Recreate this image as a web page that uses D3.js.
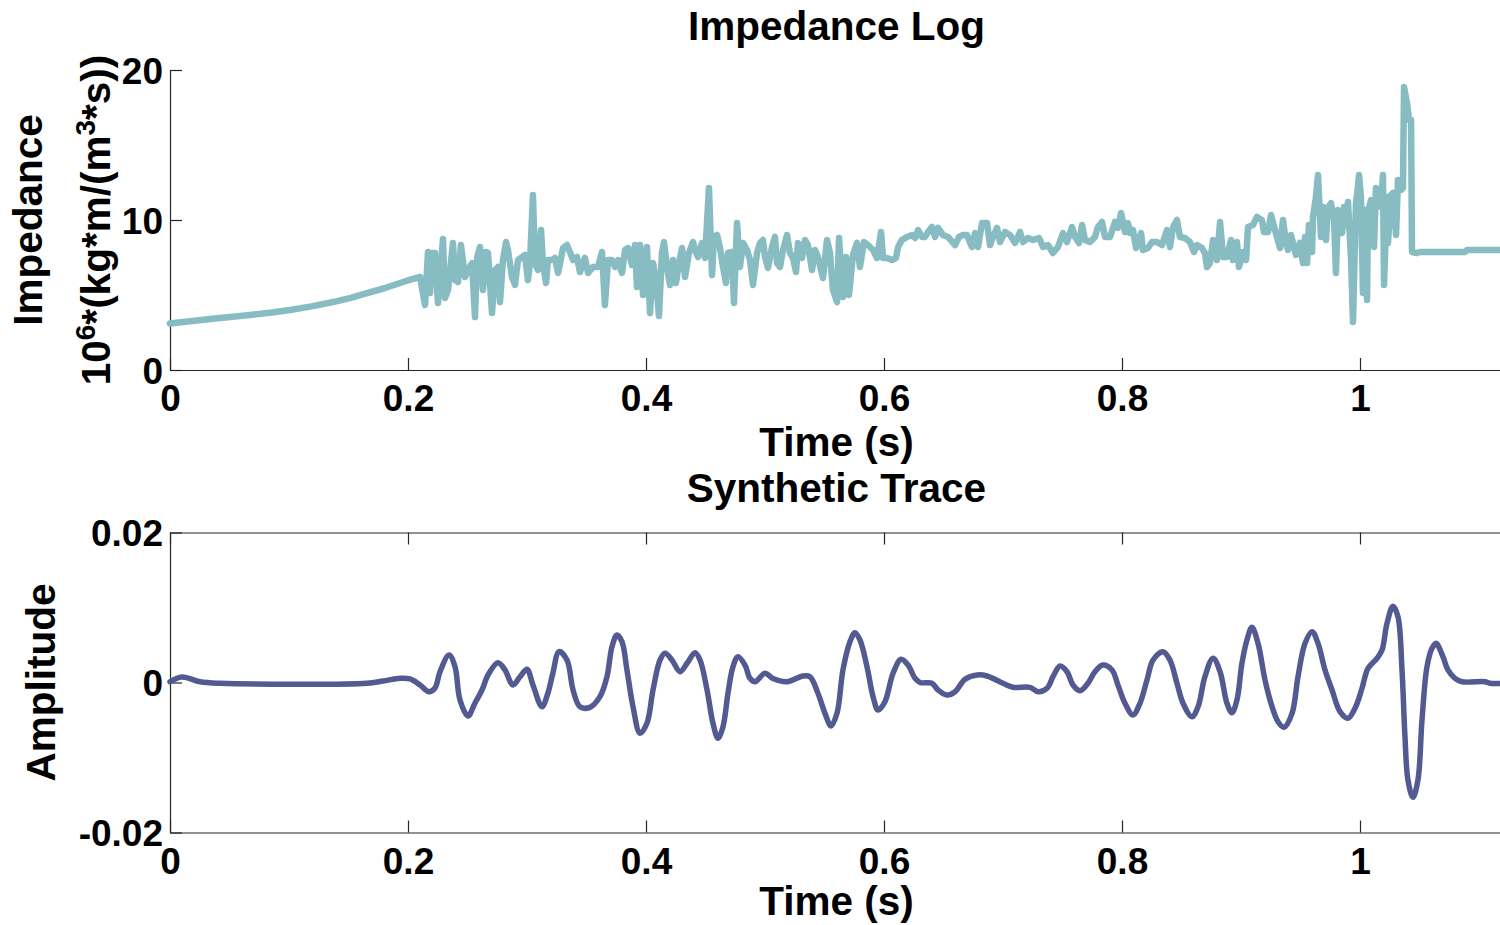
<!DOCTYPE html>
<html>
<head>
<meta charset="utf-8">
<script src="https://cdn.jsdelivr.net/npm/d3@7/dist/d3.min.js"></script>
<style>
  html, body { margin: 0; padding: 0; background: #ffffff; }
  svg { display: block; }
  text { font-family: "Liberation Sans", Arial, Helvetica, sans-serif; font-weight: bold; fill: #000; }
</style>
</head>
<body>
<svg id="chart" width="1500" height="925"></svg>
<script>
// ---- Impedance log (time in s, impedance in 10^6 kg/(m^2 s)) ----
const impTime = [
  0, 0.0168, 0.0336, 0.0504, 0.0672, 0.0840, 0.1008, 0.1190, 0.1370, 0.1520, 0.1655, 0.1800, 0.1933, 0.2020, 0.2101,
  0.2143, 0.2168, 0.2185, 0.2202, 0.2227, 0.2252, 0.2294, 0.2311, 0.2336, 0.2378,
  0.2395, 0.2420, 0.2445, 0.2479, 0.2504, 0.2538, 0.2563, 0.2580, 0.2605, 0.2630,
  0.2655, 0.2672, 0.2706, 0.2731, 0.2756, 0.2773, 0.2798, 0.2824, 0.2840, 0.2874,
  0.2899, 0.2924, 0.2958, 0.2983, 0.3008, 0.3025, 0.3050, 0.3067, 0.3092, 0.3118,
  0.3134, 0.3160, 0.3176, 0.3210, 0.3235, 0.3261, 0.3303, 0.3336, 0.3361, 0.3387,
  0.3420, 0.3445, 0.3487, 0.3513, 0.3555, 0.3597, 0.3630, 0.3655, 0.3681, 0.3714,
  0.3739, 0.3765, 0.3798, 0.3824, 0.3849, 0.3882, 0.3908, 0.3924, 0.3950, 0.3975,
  0.4008, 0.4034, 0.4059, 0.4084, 0.4109, 0.4134, 0.4151, 0.4176, 0.4202, 0.4227,
  0.4252, 0.4277, 0.4303, 0.4328, 0.4361, 0.4395, 0.4412, 0.4437, 0.4471, 0.4496,
  0.4529, 0.4555, 0.4571, 0.4597, 0.4622, 0.4647, 0.4672, 0.4689, 0.4723, 0.4739,
  0.4765, 0.4790, 0.4815, 0.4849, 0.4874, 0.4899, 0.4933, 0.4958, 0.4983, 0.5000,
  0.5025, 0.5059, 0.5084, 0.5101, 0.5126, 0.5151, 0.5185, 0.5210, 0.5235, 0.5261,
  0.5277, 0.5311, 0.5336, 0.5361, 0.5395, 0.5420, 0.5445, 0.5487, 0.5521, 0.5546,
  0.5571, 0.5605, 0.5622, 0.5655, 0.5681, 0.5706, 0.5739, 0.5773, 0.5798, 0.5832,
  0.5866, 0.5908, 0.5941, 0.5975, 0.5992, 0.6025, 0.6067, 0.6101, 0.6118, 0.6151,
  0.6193, 0.6235, 0.6261, 0.6286, 0.6319, 0.6345, 0.6370, 0.6403, 0.6429, 0.6454,
  0.6496, 0.6538, 0.6597, 0.6630, 0.6664, 0.6697, 0.6739, 0.6765, 0.6790, 0.6824,
  0.6866, 0.6891, 0.6916, 0.6950, 0.6975, 0.7017, 0.7059, 0.7101, 0.7143, 0.7168,
  0.7210, 0.7252, 0.7303, 0.7336, 0.7378, 0.7420, 0.7462, 0.7504, 0.7538, 0.7580,
  0.7605, 0.7639, 0.7664, 0.7689, 0.7731, 0.7773, 0.7798, 0.7832, 0.7857, 0.7899,
  0.7941, 0.7966, 0.7992, 0.8025, 0.8050, 0.8067, 0.8092, 0.8118, 0.8160, 0.8176,
  0.8218, 0.8252, 0.8294, 0.8336, 0.8378, 0.8403, 0.8429, 0.8462, 0.8487, 0.8529,
  0.8571, 0.8605, 0.8630, 0.8672, 0.8697, 0.8714, 0.8739, 0.8765, 0.8798, 0.8824,
  0.8849, 0.8882, 0.8916, 0.8933, 0.8966, 0.8983, 0.9017, 0.9042, 0.9059, 0.9101,
  0.9134, 0.9176, 0.9193, 0.9227, 0.9252, 0.9286, 0.9328, 0.9353, 0.9378, 0.9395,
  0.9420, 0.9437, 0.9462, 0.9496, 0.9521, 0.9538, 0.9555, 0.9571, 0.9597, 0.9605,
  0.9630, 0.9647, 0.9672, 0.9689, 0.9714, 0.9731, 0.9756, 0.9782, 0.9798, 0.9815,
  0.9849, 0.9866, 0.9891, 0.9899, 0.9924, 0.9941, 0.9966, 0.9975, 0.9992, 1.0008,
  1.0025, 1.0042, 1.0059, 1.0067, 1.0092, 1.0109, 1.0118, 1.0134, 1.0160, 1.0176,
  1.0193, 1.0202, 1.0227, 1.0235, 1.0261, 1.0277, 1.0303, 1.0319, 1.0345, 1.0361,
  1.0370, 1.0395, 1.0412, 1.0429, 1.0437, 1.0479, 1.0504, 1.0882, 1.0899, 1.1202
];
const impValue = [
  3.10, 3.25, 3.40, 3.53, 3.67, 3.82, 4.00, 4.24, 4.53, 4.81, 5.13, 5.45, 5.80, 6.02, 6.20,
  4.33, 7.87, 5.13, 7.80, 7.80, 4.47, 8.73, 4.80, 5.33, 8.47,
  6.00, 5.87, 8.33, 6.20, 6.67, 7.13, 3.53, 7.47, 8.20, 5.33,
  7.87, 7.80, 3.80, 6.67, 6.87, 4.53, 7.33, 8.53, 8.00, 6.20,
  5.67, 7.33, 7.53, 7.67, 6.00, 7.13, 11.67, 7.13, 6.67, 9.33,
  7.13, 5.80, 7.33, 7.33, 7.47, 6.47, 8.13, 8.33, 7.87, 7.33,
  7.53, 6.53, 7.47, 6.47, 6.87, 6.87, 7.87, 4.33, 7.33, 7.33,
  6.87, 7.33, 6.47, 8.00, 8.13, 7.00, 8.33, 5.53, 8.33, 5.00,
  8.20, 3.80, 7.13, 6.00, 3.60, 7.80, 8.53, 6.87, 5.67, 7.33,
  5.80, 7.13, 8.13, 6.20, 7.80, 8.53, 8.00, 7.53, 8.47, 7.47,
  12.13, 6.33, 8.87, 9.00, 8.13, 6.87, 5.80, 7.80, 7.87, 4.47,
  9.80, 6.87, 8.47, 8.00, 7.33, 5.67, 7.80, 8.47, 8.67, 7.53,
  6.80, 8.20, 8.87, 7.13, 6.87, 8.00, 9.00, 7.80, 7.47, 6.53,
  8.47, 7.47, 8.67, 8.33, 6.67, 8.00, 7.53, 6.13, 8.67, 7.80,
  5.33, 4.53, 8.80, 4.87, 7.53, 5.00, 7.67, 8.47, 6.87, 8.53,
  8.33, 8.00, 7.47, 9.20, 7.47, 7.47, 7.33, 7.47, 8.20, 8.67,
  8.87, 9.00, 8.80, 9.33, 8.87, 8.87, 9.20, 9.53, 8.87, 9.47,
  9.00, 8.87, 8.33, 8.87, 9.00, 9.00, 8.20, 9.13, 8.20, 9.80,
  9.80, 8.33, 8.87, 9.47, 8.53, 9.20, 9.00, 8.47, 9.20, 8.53,
  8.80, 8.67, 8.80, 8.20, 8.33, 7.80, 8.20, 9.13, 8.53, 9.53,
  8.87, 8.47, 9.67, 8.67, 8.53, 8.87, 9.53, 9.87, 8.87, 8.87,
  9.87, 9.47, 10.47, 9.20, 9.80, 9.13, 9.33, 8.13, 9.13, 8.00,
  8.13, 8.53, 8.53, 8.33, 9.33, 8.20, 9.53, 10.00, 8.87, 8.80,
  8.53, 7.87, 8.33, 8.13, 7.80, 6.87, 7.13, 8.67, 7.33, 9.87,
  7.53, 7.53, 8.67, 7.33, 8.53, 6.87, 7.87, 7.33, 9.53, 9.67,
  10.20, 10.00, 9.20, 9.20, 10.33, 9.33, 8.13, 10.00, 8.47, 8.00,
  9.00, 8.47, 7.67, 8.47, 7.13, 8.87, 7.13, 9.67, 7.87, 10.20,
  11.53, 13.00, 8.87, 10.87, 8.67, 10.80, 11.13, 10.00, 6.47, 10.67,
  9.13, 10.87, 9.67, 11.20, 7.53, 3.20, 11.13, 11.67, 13.00, 11.53,
  5.13, 10.67, 4.67, 10.47, 11.33, 10.20, 8.20, 12.13, 12.00, 10.87,
  13.00, 5.67, 11.53, 8.47, 11.67, 11.80, 9.00, 12.67, 12.00, 12.13,
  18.87, 17.80, 16.67, 16.67, 7.87, 7.80, 7.87, 7.87, 8.00, 8.00
];

// ---- Synthetic trace (time in s, amplitude) ----
const traceTime = [
  0, 0.0101, 0.0252, 0.0420, 0.1655, 0.1790, 0.1933, 0.2017, 0.2101, 0.2176,
  0.2227, 0.2269, 0.2345, 0.2395, 0.2437, 0.2504, 0.2563, 0.2622, 0.2672, 0.2756,
  0.2815, 0.2882, 0.2941, 0.3000, 0.3050, 0.3126, 0.3176, 0.3218, 0.3269, 0.3336,
  0.3387, 0.3445, 0.3529, 0.3613, 0.3672, 0.3714, 0.3756, 0.3798, 0.3840, 0.3891,
  0.3950, 0.4008, 0.4059, 0.4118, 0.4160, 0.4218, 0.4286, 0.4345, 0.4412, 0.4454,
  0.4513, 0.4563, 0.4605, 0.4647, 0.4689, 0.4731, 0.4773, 0.4832, 0.4874, 0.4916,
  0.5000, 0.5067, 0.5185, 0.5319, 0.5378, 0.5445, 0.5504, 0.5555, 0.5605, 0.5655,
  0.5714, 0.5756, 0.5798, 0.5857, 0.5908, 0.5950, 0.6008, 0.6076, 0.6143, 0.6202,
  0.6261, 0.6303, 0.6403, 0.6454, 0.6529, 0.6597, 0.6681, 0.6782, 0.6866, 0.7000,
  0.7084, 0.7227, 0.7294, 0.7370, 0.7420, 0.7479, 0.7538, 0.7588, 0.7647, 0.7714,
  0.7773, 0.7840, 0.7916, 0.7966, 0.8025, 0.8092, 0.8151, 0.8210, 0.8261, 0.8345,
  0.8403, 0.8462, 0.8513, 0.8588, 0.8639, 0.8697, 0.8765, 0.8824, 0.8882, 0.8924,
  0.8966, 0.9008, 0.9050, 0.9092, 0.9143, 0.9202, 0.9261, 0.9311, 0.9361, 0.9429,
  0.9479, 0.9538, 0.9597, 0.9647, 0.9706, 0.9765, 0.9832, 0.9899, 0.9958, 1.0017,
  1.0067, 1.0143, 1.0185, 1.0227, 1.0277, 1.0319, 1.0353, 1.0378, 1.0403, 1.0445,
  1.0487, 1.0521, 1.0563, 1.0605, 1.0639, 1.0697, 1.0739, 1.0798, 1.0857, 1.1050,
  1.1092, 1.1202
];
const traceAmp = [
  0.0001, 0.00073, 0.0001, -0.0001, -0.0001, 0.0002, 0.00056, 0.00047, -0.00033, -0.00123,
  -0.00073, 0.00144, 0.00367, 0.00211, -0.00233, -0.00447, -0.00273, -0.0010, 0.0010, 0.00264,
  0.00167, -0.00033, 0.00077, 0.00176, -0.00033, -0.00323, -0.0014, 0.00127, 0.00411, 0.0030,
  -0.0010, -0.00323, -0.00331, -0.00189, 0.00077, 0.00477, 0.00633, 0.00544, 0.00167, -0.00323,
  -0.00677, -0.00544, -0.0010, 0.0030, 0.00389, 0.0030, 0.00144, 0.00256, 0.00397, 0.0030,
  -0.0010, -0.00544, -0.00744, -0.00589, -0.00144, 0.00211, 0.00344, 0.00233, 0.00056, 0.0001,
  0.00123, 0.00053, 0.0001, 0.00087, 0.00077, -0.00144, -0.00411, -0.0058, -0.00411, 0.00167,
  0.00544, 0.00664, 0.00567, 0.00211, -0.00189, -0.00367, -0.00256, 0.00123, 0.00309, 0.00233,
  0.00056, 0.0, -0.0001, -0.0010, -0.00167, -0.00123, 0.00043, 0.0010, 0.00087, -0.0001,
  -0.00064, -0.00064, -0.00123, -0.00077, 0.00077, 0.0022, 0.00144, -0.00033, -0.00109, -0.0001,
  0.00144, 0.00233, 0.00167, -0.00033, -0.00277, -0.00433, -0.00277, 0.00033, 0.0030, 0.00411,
  0.0030, -0.0001, -0.00277, -0.00456, -0.00323, 0.00077, 0.00323, 0.00144, -0.00277, -0.00403,
  -0.00233, 0.00256, 0.00567, 0.00736, 0.00523, 0.00033, -0.00323, -0.00523, -0.00597, -0.00411,
  0.00077, 0.00523, 0.00677, 0.00523, 0.00167, -0.0010, -0.00389, -0.00477, -0.00344, -0.00077,
  0.00189, 0.00323, 0.00433, 0.00789, 0.01016, 0.00877, 0.00167, -0.00723, -0.0130, -0.01531,
  -0.0130, -0.0050, 0.00211, 0.00456, 0.00523, 0.00344, 0.00167, 0.00056, 0.0001, 0.0001,
  -0.0001, -0.0001
];

// ---- Axis ticks ----
const timeTicks = [0, 0.2, 0.4, 0.6, 0.8, 1];
const timeTickLabels = ["0", "0.2", "0.4", "0.6", "0.8", "1"];
const impTicks = [0, 10, 20];
const impTickLabels = ["0", "10", "20"];
const ampTicks = [-0.02, 0, 0.02];
const ampTickLabels = ["-0.02", "0", "0.02"];

const svg = d3.select("#chart");
const axisColor = "#262626";
const tickFont = 37;
const labelFont = 40.5;

const left = 170, right = 1502.8;
const timeDomain = [0, 1.12];

function labelFor(values, labels) {
  return d => labels[values.indexOf(d)];
}

function styleAxis(g, fontSize) {
  g.select(".domain").attr("stroke", axisColor).attr("stroke-width", 1.2);
  g.selectAll(".tick line").attr("stroke", axisColor).attr("stroke-width", 1.2);
  g.selectAll(".tick text")
    .attr("fill", "#000")
    .style("font-size", fontSize + "px")
    .style("font-weight", "bold")
    .style("font-family", '"Liberation Sans", Arial, Helvetica, sans-serif');
}

// ================= Top panel: impedance log =================
const xTop = d3.scaleLinear().domain(timeDomain).range([left, right]);
const yTop = d3.scaleLinear().domain([0, 20]).range([370, 70]);

const gxTop = svg.append("g").attr("transform", "translate(0,370)")
  .call(d3.axisBottom(xTop).tickValues(timeTicks)
    .tickFormat(labelFor(timeTicks, timeTickLabels))
    .tickSizeInner(-12).tickSizeOuter(0).tickPadding(15));
styleAxis(gxTop, tickFont);

const gyTop = svg.append("g").attr("transform", `translate(${left},0)`)
  .call(d3.axisLeft(yTop).tickValues(impTicks)
    .tickFormat(labelFor(impTicks, impTickLabels))
    .tickSizeInner(-12).tickSizeOuter(0).tickPadding(7));
styleAxis(gyTop, tickFont);
gyTop.selectAll(".tick text").attr("dy", "0.36em");

svg.append("defs").append("clipPath").attr("id", "clipTop")
  .append("rect").attr("x", left - 5).attr("y", 60).attr("width", right - left + 10).attr("height", 320);

const impData = impTime.map((t, i) => [t, impValue[i]]);
svg.append("path")
  .datum(impData)
  .attr("clip-path", "url(#clipTop)")
  .attr("fill", "none")
  .attr("stroke", "#86bcc2")
  .attr("stroke-width", 6.5)
  .attr("stroke-linejoin", "round")
  .attr("stroke-linecap", "round")
  .attr("d", d3.line().x(d => xTop(d[0])).y(d => yTop(d[1])));

svg.append("text")
  .attr("x", (left + right) / 2).attr("y", 40)
  .attr("text-anchor", "middle")
  .style("font-size", labelFont + "px")
  .text("Impedance Log");

svg.append("text")
  .attr("x", (left + right) / 2).attr("y", 456)
  .attr("text-anchor", "middle")
  .style("font-size", labelFont + "px")
  .text("Time (s)");

// two-line rotated y label with superscripts
svg.append("text")
  .attr("transform", `translate(42,${(70 + 370) / 2}) rotate(-90)`)
  .attr("text-anchor", "middle")
  .style("font-size", labelFont + "px")
  .text("Impedance");

const yLab2 = svg.append("text")
  .attr("transform", `translate(110,${(70 + 370) / 2}) rotate(-90)`)
  .attr("text-anchor", "middle")
  .style("font-size", labelFont + "px");
yLab2.append("tspan").text("10");
yLab2.append("tspan").attr("dy", -15).style("font-size", "28px").text("6");
yLab2.append("tspan").attr("dy", 15).text("*(kg*m/(m");
yLab2.append("tspan").attr("dy", -15).style("font-size", "28px").text("3");
yLab2.append("tspan").attr("dy", 15).text("*s))");

// ================= Bottom panel: synthetic trace =================
const xBot = d3.scaleLinear().domain(timeDomain).range([left, right]);
const yBot = d3.scaleLinear().domain([-0.02, 0.02]).range([832.5, 532.5]);

const gxBot = svg.append("g").attr("transform", "translate(0,832.5)")
  .call(d3.axisBottom(xBot).tickValues(timeTicks)
    .tickFormat(labelFor(timeTicks, timeTickLabels))
    .tickSizeInner(-12).tickSizeOuter(0).tickPadding(15));
styleAxis(gxBot, tickFont);

const gxBotTop = svg.append("g").attr("transform", "translate(0,532.5)")
  .call(d3.axisTop(xBot).tickValues(timeTicks).tickFormat("")
    .tickSizeInner(-12).tickSizeOuter(0));
styleAxis(gxBotTop, tickFont);

const gyBot = svg.append("g").attr("transform", `translate(${left},0)`)
  .call(d3.axisLeft(yBot).tickValues(ampTicks)
    .tickFormat(labelFor(ampTicks, ampTickLabels))
    .tickSizeInner(-12).tickSizeOuter(0).tickPadding(7));
styleAxis(gyBot, tickFont);
gyBot.selectAll(".tick text").attr("dy", "0.36em");

const traceData = traceTime.map((t, i) => [t, traceAmp[i]]);
svg.append("path")
  .datum(traceData)
  .attr("fill", "none")
  .attr("stroke", "#535991")
  .attr("stroke-width", 5.5)
  .attr("stroke-linejoin", "round")
  .attr("stroke-linecap", "round")
  .attr("d", d3.line().curve(d3.curveCatmullRom.alpha(0.5))
    .x(d => xBot(d[0])).y(d => yBot(d[1])));

svg.append("text")
  .attr("x", (left + right) / 2).attr("y", 502)
  .attr("text-anchor", "middle")
  .style("font-size", labelFont + "px")
  .text("Synthetic Trace");

svg.append("text")
  .attr("x", (left + right) / 2).attr("y", 915)
  .attr("text-anchor", "middle")
  .style("font-size", labelFont + "px")
  .text("Time (s)");

svg.append("text")
  .attr("transform", `translate(55,${(532.5 + 832.5) / 2}) rotate(-90)`)
  .attr("text-anchor", "middle")
  .style("font-size", labelFont + "px")
  .text("Amplitude");
</script>
</body>
</html>
